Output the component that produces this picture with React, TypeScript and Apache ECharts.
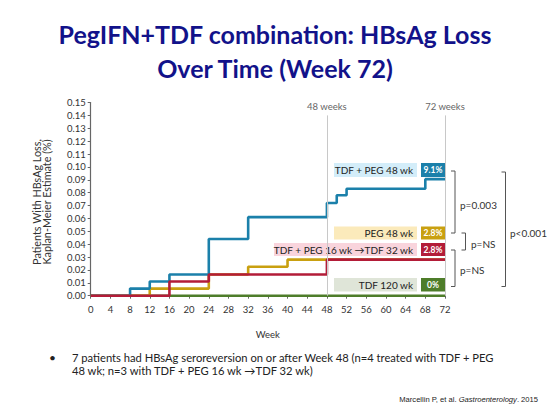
import React, { useEffect, useRef } from "react";
import * as echarts from "echarts";

const xTicks = [0, 4, 8, 12, 16, 20, 24, 28, 32, 36, 40, 44, 48, 52, 56, 60, 64, 68, 72];
const refWeeks = [48, 72];
const refLabels = ["48 weeks", "72 weeks"];

const blueWeeks = [0, 8, 12, 16, 24, 32, 48, 50, 52, 68, 72];
const blueValues = [0, 0.0055, 0.011, 0.0165, 0.044, 0.061, 0.072, 0.078, 0.083, 0.0905, 0.0905];
const goldWeeks = [0, 12, 24, 32, 40, 72];
const goldValues = [0, 0.0055, 0.0165, 0.0225, 0.028, 0.028];
const redWeeks = [0, 16, 24, 48, 72];
const redValues = [0, 0.011, 0.0165, 0.028, 0.028];
const greenWeeks = [0, 72];
const greenValues = [0, 0];

const groupNames = ["TDF + PEG 48 wk", "PEG 48 wk", "TDF + PEG 16 wk \u2192TDF 32 wk", "TDF 120 wk"];
const groupPercents = ["9.1%", "2.8%", "2.8%", "0%"];
const pLabels = ["p=0.003", "p=NS", "p=NS", "p<0.001"];

const BLUE = "#1b80aa";
const GOLD = "#c9a010";
const RED = "#b31c38";
const GREEN = "#4e7d2a";

const zip = (xs: number[], ys: number[]) => xs.map((x, i) => [x, ys[i]]);

export default function App() {
  const ref = useRef<HTMLDivElement>(null);
  useEffect(() => {
    if (!ref.current) return;
    const chart = echarts.init(ref.current, null, { renderer: "svg" });
    const font = "Lato";
    const lineSeries = (name: string, data: number[][], color: string) => ({
      name,
      type: "line",
      step: "end",
      data,
      symbol: "none",
      lineStyle: { color, width: 2.6 },
      silent: true,
    });

    const boxRows = [
      { y: 163, h: 14, x0: 334, light: "#d3edf9", dark: BLUE },
      { y: 226.5, h: 13, x0: 334, light: "#fbeabb", dark: GOLD },
      { y: 243, h: 13, x0: 274, light: "#f9d4dc", dark: RED },
      { y: 278, h: 13.5, x0: 334, light: "#dfe5d8", dark: GREEN },
    ];

    const graphics: any[] = [];
    boxRows.forEach((b, i) => {
      graphics.push({
        type: "rect",
        shape: { x: b.x0, y: b.y, width: 417 - b.x0, height: b.h },
        style: { fill: b.light },
        silent: true,
      });
      graphics.push({
        type: "rect",
        shape: { x: 421, y: b.y, width: 24, height: b.h },
        style: { fill: b.dark },
        silent: true,
      });
      graphics.push({
        type: "text",
        x: 413,
        y: b.y + b.h / 2,
        style: {
          text: groupNames[i],
          fill: "#222",
          font: `10px ${font}`,
          align: "right",
          verticalAlign: "middle",
        },
        silent: true,
      });
      graphics.push({
        type: "text",
        x: 433,
        y: b.y + b.h / 2,
        style: {
          text: groupPercents[i],
          fill: "#fff",
          font: `bold 8.5px ${font}`,
          align: "center",
          verticalAlign: "middle",
        },
        silent: true,
      });
    });

    const brackets = [
      { x: 455, y0: 171, y1: 233, stub: 4 },
      { x: 465.5, y0: 233, y1: 250, stub: 4 },
      { x: 455, y0: 250, y1: 286.5, stub: 4 },
      { x: 505.5, y0: 172, y1: 286.5, stub: 4 },
    ];
    brackets.forEach((b) => {
      graphics.push({
        type: "polyline",
        shape: {
          points: [
            [b.x - b.stub, b.y0],
            [b.x, b.y0],
            [b.x, b.y1],
            [b.x - b.stub, b.y1],
          ],
        },
        style: { stroke: "#555", lineWidth: 1, fill: "none" },
        silent: true,
      });
    });
    const pPos = [
      [460, 205],
      [471, 244],
      [460, 269.5],
      [510, 232.5],
    ];
    pPos.forEach((p, i) => {
      graphics.push({
        type: "text",
        x: p[0],
        y: p[1],
        style: {
          text: pLabels[i],
          fill: "#333",
          font: `10px ${font}`,
          align: "left",
          verticalAlign: "middle",
        },
        silent: true,
      });
    });

    graphics.push({
      type: "text",
      x: 41.5,
      y: 202,
      rotation: Math.PI / 2,
      style: {
        text: "Patients With HBsAg Loss,\nKaplan-Meier Estimate (%)",
        fill: "#333",
        font: `10.8px ${font}`,
        lineHeight: 10.8,
        align: "center",
        verticalAlign: "middle",
      },
      silent: true,
    });

    graphics.push({
      type: "text",
      x: 52.5,
      y: 357.5,
      style: { text: "\u2022", fill: "#222", font: `12px ${font}`, align: "center", verticalAlign: "middle" },
      silent: true,
    });
    graphics.push({
      type: "text",
      x: 72,
      y: 364,
      style: {
        text: "7 patients had HBsAg seroreversion on or after Week 48 (n=4 treated with TDF + PEG\n48 wk; n=3 with TDF + PEG 16 wk \u2192TDF 32 wk)",
        fill: "#222",
        font: `11.2px ${font}`,
        lineHeight: 13.5,
        align: "left",
        verticalAlign: "middle",
      },
      silent: true,
    });
    graphics.push({
      type: "text",
      x: 538,
      y: 399,
      style: {
        text: "{n|Marcellin P, et al. }{i|Gastroenterology}{n|. 2015}",
        align: "right",
        verticalAlign: "middle",
        rich: {
          n: { fontFamily: "Liberation Sans", fontSize: 7.6, fill: "#222" },
          i: { fontFamily: "Liberation Sans", fontSize: 7.6, fontStyle: "italic", fill: "#222" },
        },
      },
      silent: true,
    });

    chart.setOption({
      animation: false,
      backgroundColor: "#fff",
      title: {
        text: "PegIFN+TDF combination: HBsAg Loss\nOver Time (Week 72)",
        left: "center",
        top: 17,
        padding: 0,
        textStyle: {
          fontFamily: font,
          fontWeight: "bold",
          fontSize: 25,
          lineHeight: 34,
          color: "#12128a",
        },
      },
      grid: { left: 90.7, right: 105, top: 102.5, bottom: 117.3 },
      xAxis: {
        type: "value",
        min: 0,
        max: 72,
        interval: 4,
        name: "Week",
        nameLocation: "middle",
        nameGap: 34,
        nameTextStyle: { fontFamily: font, fontSize: 9.5, color: "#333" },
        axisLine: { lineStyle: { color: "#666", width: 1.2 } },
        axisTick: { show: true, length: 3, lineStyle: { color: "#666" } },
        axisLabel: {
          fontFamily: font,
          fontSize: 9.5,
          color: "#333",
          margin: 9,
          formatter: (v: number) => (xTicks.includes(v) ? String(v) : ""),
        },
        splitLine: { show: false },
      },
      yAxis: {
        type: "value",
        min: 0,
        max: 0.15,
        interval: 0.01,
        axisLine: { show: true, lineStyle: { color: "#666", width: 1.2 } },
        axisTick: { show: true, length: 3, lineStyle: { color: "#666" } },
        axisLabel: {
          fontFamily: font,
          fontSize: 9.5,
          color: "#333",
          margin: 5,
          formatter: (v: number) => v.toFixed(2),
        },
        splitLine: { show: false },
      },
      graphic: graphics,
      series: [
        {
          ...lineSeries("TDF 120 wk", zip(greenWeeks, greenValues), GREEN),
          markLine: {
            silent: true,
            symbol: "none",
            lineStyle: { color: "#c8c8c8", width: 1, type: "solid" },
            label: {
              show: true,
              position: "end",
              formatter: (p: any) => p.name,
              fontFamily: font,
              fontSize: 9.5,
              color: "#666",
              distance: 4,
            },
            data: refWeeks.map((w, i) => [
              { coord: [w, 0], name: refLabels[i] },
              { coord: [w, 0.14] },
            ]),
          },
        },
        lineSeries("PEG 48 wk", zip(goldWeeks, goldValues), GOLD),
        lineSeries("TDF + PEG 48 wk", zip(blueWeeks, blueValues), BLUE),
        lineSeries("TDF + PEG 16 wk \u2192TDF 32 wk", zip(redWeeks, redValues), RED),
      ],
    });
    return () => chart.dispose();
  }, []);
  return (
    <div
      ref={ref}
      style={{ position: "fixed", left: 0, top: 0, width: 550, height: 413, background: "#fff" }}
    />
  );
}
